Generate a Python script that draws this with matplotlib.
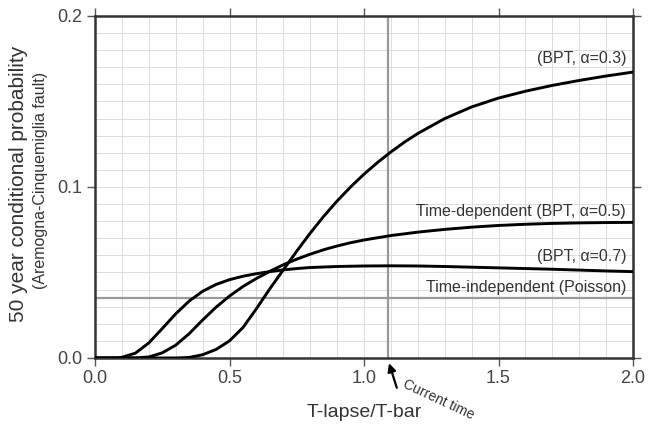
import numpy as np
import matplotlib.pyplot as plt

# T-lapse / T-bar values where the curves were sampled
x_a03 = [0.0, 0.30, 0.35, 0.40, 0.45, 0.50, 0.55, 0.60, 0.65, 0.70, 0.75, 0.80,
         0.85, 0.90, 0.95, 1.00, 1.05, 1.10, 1.15, 1.20, 1.30, 1.40, 1.50, 1.60,
         1.70, 1.80, 1.90, 2.00]
p_a03 = [0.0, 0.0, 0.0003, 0.0019, 0.0050, 0.0100, 0.0178, 0.0288, 0.0405, 0.0515,
         0.0625, 0.0730, 0.0828, 0.0918, 0.1000, 0.1075, 0.1143, 0.1205, 0.1262,
         0.1313, 0.1400, 0.1468, 0.1520, 0.1560, 0.1594, 0.1623, 0.1649, 0.1672]

x_a05 = [0.0, 0.15, 0.20, 0.25, 0.30, 0.35, 0.40, 0.45, 0.50, 0.55, 0.60, 0.65,
         0.70, 0.75, 0.80, 0.85, 0.90, 0.95, 1.00, 1.10, 1.20, 1.30, 1.40, 1.50,
         1.60, 1.70, 1.80, 1.90, 2.00]
p_a05 = [0.0, 0.0, 0.0006, 0.0030, 0.0075, 0.0142, 0.0222, 0.0297, 0.0362, 0.0418,
         0.0465, 0.0507, 0.0545, 0.0578, 0.0607, 0.0633, 0.0655, 0.0674, 0.0690,
         0.0716, 0.0736, 0.0752, 0.0765, 0.0775, 0.0782, 0.0787, 0.0790, 0.0792,
         0.0793]

x_a07 = [0.0, 0.08, 0.10, 0.15, 0.20, 0.25, 0.30, 0.35, 0.40, 0.45, 0.50, 0.55,
         0.60, 0.65, 0.70, 0.75, 0.80, 0.90, 1.00, 1.10, 1.20, 1.30, 1.40, 1.50,
         1.60, 1.70, 1.80, 1.90, 2.00]
p_a07 = [0.0, 0.0, 0.0004, 0.0028, 0.0088, 0.0172, 0.0258, 0.0333, 0.0390, 0.0430,
         0.0458, 0.0478, 0.0493, 0.0505, 0.0515, 0.0523, 0.0529, 0.0535, 0.0538,
         0.0539, 0.0538, 0.0535, 0.0531, 0.0527, 0.0523, 0.0519, 0.0514, 0.0509,
         0.0505]

poisson_p = 0.035
current_time = 1.09

labels = ["(BPT, \u03b1=0.3)", "Time-dependent (BPT, \u03b1=0.5)",
          "(BPT, \u03b1=0.7)", "Time-independent (Poisson)"]
label_y = [0.1754, 0.0854, 0.0591, 0.0415]

plt.rcParams['font.family'] = ['Liberation Sans', 'DejaVu Sans']

fig = plt.figure(figsize=(6.48, 4.24), dpi=100)
ax = fig.add_axes([0.1466, 0.1557, 0.8303, 0.8066])

ax.set_xlim(0, 2.0)
ax.set_ylim(0, 0.2)
ax.set_xticks([0.0, 0.5, 1.0, 1.5, 2.0])
ax.set_yticks([0.0, 0.1, 0.2])
ax.set_xticks(np.arange(0, 2.01, 0.1), minor=True)
ax.set_yticks(np.arange(0, 0.201, 0.01), minor=True)
ax.grid(which='both', color='#dcdcdc', lw=0.7)
ax.set_axisbelow(True)
ax.tick_params(which='minor', length=0)
ax.tick_params(which='major', direction='out', length=6, width=1, color='#555555',
               labelsize=13, labelcolor='#444444', top=True, right=True, pad=3)

for s in ax.spines.values():
    s.set_color('#333333')
    s.set_linewidth(1.8)

ax.axhline(poisson_p, color='#999999', lw=1.6, zorder=2)
ax.axvline(current_time, color='#999999', lw=1.6, zorder=2)

for xs, ps in [(x_a03, p_a03), (x_a05, p_a05), (x_a07, p_a07)]:
    ax.plot(xs, ps, color='black', lw=2.1, solid_capstyle='round',
            solid_joinstyle='round', zorder=3)

for txt, yy in zip(labels, label_y):
    ax.text(1.974, yy, txt, ha='right', va='center', fontsize=11.5, color='#333333')

ax.set_xlabel("T-lapse/T-bar", fontsize=14, color='#333333', labelpad=12)
ax.set_ylabel("50 year conditional probability", fontsize=15, color='#333333',
              labelpad=0)
ax.yaxis.set_label_coords(-0.124, 0.51)
fig.text(0.063, 0.575, "(Aremogna-Cinquemiglia fault)", rotation=90, ha='center',
         va='center', fontsize=11.5, color='#333333')

ax.annotate("", xy=(current_time, -0.0015), xytext=(current_time + 0.035, -0.019),
            xycoords='data', annotation_clip=False,
            arrowprops=dict(arrowstyle='-|>', color='black', lw=1.6, mutation_scale=12))
ax.text(current_time + 0.07, -0.011, "Current time", rotation=-25, ha='left', va='top',
        fontsize=10, color='#333333', rotation_mode='anchor', transform=ax.transData,
        clip_on=False)

fig.savefig("out.png", dpi=100)
